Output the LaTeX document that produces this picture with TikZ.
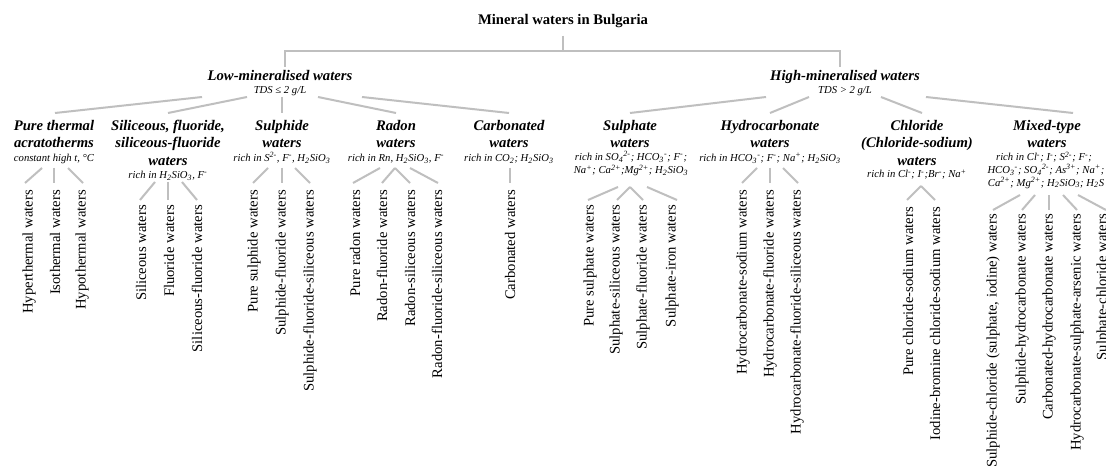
\documentclass[tikz,border=0pt]{standalone}
\usepackage{fontspec}
\setmainfont{Liberation Serif}
\newcommand{\chsup}[1]{\textsuperscript{#1}}
\newcommand{\chsub}[1]{\textsubscript{#1}}
\tikzset{
  link/.style={draw=black!25, line width=1.5pt},
  ttl/.style={font=\fontsize{11}{13}\selectfont\bfseries, anchor=base, inner sep=0pt},
  head/.style={font=\fontsize{11}{13}\selectfont\bfseries\itshape, anchor=base, inner sep=0pt},
  sub/.style={font=\fontsize{8}{10}\selectfont\itshape, anchor=base, inner sep=0pt},
  leaf/.style={font=\fontsize{11}{13}\selectfont, rotate=90, anchor=east, inner sep=0pt},
}
\begin{document}
\begin{tikzpicture}[x=0.75pt,y=-0.75pt]
\path[use as bounding box, fill=white] (0,0) rectangle (1106,474);
\clip (0,0) rectangle (1106,474);

% root
\node[ttl] (title) at (563,25) {Mineral waters in Bulgaria};
\coordinate (stubtop) at (563,36);
\coordinate (stubbot) at (563,51);
\coordinate (barl) at (285,51);
\coordinate (barr) at (840,51);
\coordinate (dropl) at (285,67);
\coordinate (dropr) at (840,67);
\draw[link] (stubtop) -- (stubbot);
\draw[link] (dropl) -- (barl) -- (barr) -- (dropr);

\node[head] (low) at (280,80.5) {Low-mineralised waters};
\node[sub] (lowtds) at (280,93.5) {TDS ≤ 2 g/L};
\node[head] (high) at (845,80.5) {High-mineralised waters};
\node[sub] (hightds) at (845,93.5) {TDS > 2 g/L};

% branches from the two main groups
\foreach \n/\ax/\bx in {lb1/202/55, lb2/247/168, lb3/282/282, lb4/318/396, lb5/362/509,
                        hb1/766/630, hb2/809/770, hb3/881/922, hb4/926/1073}{
  \coordinate (\n-s) at (\ax,97);
  \coordinate (\n-e) at (\bx,113);
  \draw[link] (\n-s) -- (\n-e);
}

% low-mineralised groups
\node[head] (pt1) at (54,130.5) {Pure thermal};
\node[head] (pt2) at (54,148) {acratotherms};
\node[sub]  (pts) at (54,161.5) {constant high t, °C};

\node[head] (sf1) at (168,130.5) {Siliceous, fluoride,};
\node[head] (sf2) at (168,148) {siliceous-fluoride};
\node[head] (sf3) at (168,165.5) {waters};
\node[sub]  (sfs) at (168,178.5) {rich in H\chsub{2}SiO\chsub{3}, F\chsup{-}};

\node[head] (su1) at (282,130.5) {Sulphide};
\node[head] (su2) at (282,148) {waters};
\node[sub]  (sus) at (282,161.5) {rich in S\chsup{2-}, F\chsup{-}, H\chsub{2}SiO\chsub{3}};

\node[head] (rn1) at (396,130.5) {Radon};
\node[head] (rn2) at (396,148) {waters};
\node[sub]  (rns) at (396,161.5) {rich in Rn, H\chsub{2}SiO\chsub{3}, F\chsup{-}};

\node[head] (cb1) at (509,130.5) {Carbonated};
\node[head] (cb2) at (509,148) {waters};
\node[sub]  (cbs) at (509,161.5) {rich in CO\chsub{2}; H\chsub{2}SiO\chsub{3}};

% high-mineralised groups
\node[head] (sp1) at (630,130.5) {Sulphate};
\node[head] (sp2) at (630,148) {waters};
\node[sub]  (sps1) at (631,160.5) {rich in SO\chsub{4}\chsup{2-}; HCO\chsub{3}\chsup{-}; F\chsup{-};};
\node[sub]  (sps2) at (631,174) {Na\chsup{+}; Ca\chsup{2+};Mg\chsup{2+}; H\chsub{2}SiO\chsub{3}};

\node[head] (hc1) at (770,130.5) {Hydrocarbonate};
\node[head] (hc2) at (770,148) {waters};
\node[sub]  (hcs) at (770,161.5) {rich in HCO\chsub{3}\chsup{-}; F\chsup{-}; Na\chsup{+}; H\chsub{2}SiO\chsub{3}};

\node[head] (cl1) at (917,130.5) {Chloride};
\node[head] (cl2) at (917,148) {(Chloride-sodium)};
\node[head] (cl3) at (917,165.5) {waters};
\node[sub]  (cls) at (917,178) {rich in Cl\chsup{-}; I\chsup{-};Br\chsup{-}; Na\chsup{+}};

\node[head] (mx1) at (1047,130.5) {Mixed-type};
\node[head] (mx2) at (1047,148) {waters};
\node[sub]  (mxs1) at (1044,161) {rich in Cl\chsup{-}; I\chsup{-}; S\chsup{2-}; F\chsup{-};};
\node[sub]  (mxs2) at (1046,173.5) {HCO\chsub{3}\chsup{-}; SO\chsub{4}\chsup{2-}; As\chsup{3+}; Na\chsup{+};};
\node[sub]  (mxs3) at (1046,186) {Ca\chsup{2+}; Mg\chsup{2+}; H\chsub{2}SiO\chsub{3}; H\chsub{2}S};

% connectors to the leaves
\foreach \n/\ax/\ay/\bx/\by in {
   a1/42/168/25/183, a2/54/168/54/183, a3/68/168/83/183,
   b1/155/182/140/200, b2/168/182/168/200, b3/182/182/197/200,
   c1/268/168/253/183, c2/282/168/282/183, c3/295/168/310/183,
   d1/380/168/353/183, d2/395/168/382/183, d3/395/168/410/183, d4/410/168/438/183,
   e1/510/168/510/183,
   f1/618/187/588/200, f2/630/187/617/200, f3/630/187/643/200, f4/647/187/677/200,
   g1/757/168/742/183, g2/770/168/770/183, g3/783/168/798/183,
   h1/921/186/907/200, h2/921/186/935/200,
   k1/1020/195/993/210, k2/1035/195/1022/210, k3/1049/195/1049/210,
   k4/1063/195/1077/210, k5/1078/195/1106/210}{
  \coordinate (\n-s) at (\ax,\ay);
  \coordinate (\n-e) at (\bx,\by);
  \draw[link] (\n-s) -- (\n-e);
}

% leaves
\node[leaf] (la1) at (29,190) {Hyperthermal waters};
\node[leaf] (la2) at (55,190) {Isothermal waters};
\node[leaf] (la3) at (82,190) {Hypothermal waters};

\node[leaf] (lb1) at (141,205) {Siliceous waters};
\node[leaf] (lb2) at (169,205) {Fluoride waters};
\node[leaf] (lb3) at (197,205) {Siliceous-fluoride waters};

\node[leaf] (lc1) at (254,190) {Pure sulphide waters};
\node[leaf] (lc2) at (282,190) {Sulphide-fluoride waters};
\node[leaf] (lc3) at (310,190) {Sulphide-fluoride-siliceous waters};

\node[leaf] (ld1) at (355,190) {Pure radon waters};
\node[leaf] (ld2) at (382,190) {Radon-fluoride waters};
\node[leaf] (ld3) at (410,190) {Radon-siliceous waters};
\node[leaf] (ld4) at (437,190) {Radon-fluoride-siliceous waters};

\node[leaf] (le1) at (510,190) {Carbonated waters};

\node[leaf] (lf1) at (590,205) {Pure sulphate waters};
\node[leaf] (lf2) at (616,205) {Sulphate-siliceous waters};
\node[leaf] (lf3) at (643,205) {Sulphate-fluoride waters};
\node[leaf] (lf4) at (672,205) {Sulphate-iron waters};

\node[leaf] (lg1) at (743,190) {Hydrocarbonate-sodium waters};
\node[leaf] (lg2) at (770,190) {Hydrocarbonate-fluoride waters};
\node[leaf] (lg3) at (797,190) {Hydrocarbonate-fluoride-siliceous waters};

\node[leaf] (lh1) at (908,207) {Pure chloride-sodium waters};
\node[leaf] (lh2) at (935,207) {Iodine-bromine chloride-sodium waters};

\node[leaf] (lk1) at (993,214) {Sulphide-chloride (sulphate, iodine) waters};
\node[leaf] (lk2) at (1022,214) {Sulphide-hydrocarbonate waters};
\node[leaf] (lk3) at (1049,214) {Carbonated-hydrocarbonate waters};
\node[leaf] (lk4) at (1077,214) {Hydrocarbonate-sulphate-arsenic waters};
\node[leaf] (lk5) at (1103,214) {Sulphate-chloride waters};
\end{tikzpicture}
\end{document}
